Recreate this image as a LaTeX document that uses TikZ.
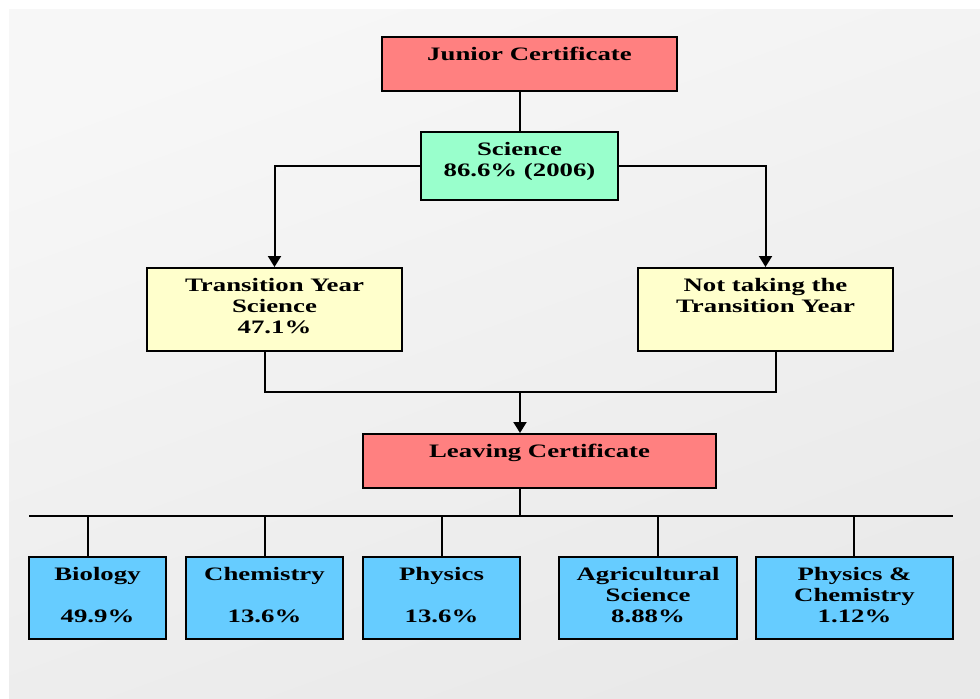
\documentclass[tikz,border=0pt]{standalone}
\usepackage{fontspec}
\setmainfont{Liberation Serif}[FakeStretch=1.41]
\usetikzlibrary{arrows.meta}

\definecolor{certred}{RGB}{255,128,128}
\definecolor{scigreen}{RGB}{153,255,204}
\definecolor{routeyellow}{RGB}{255,255,204}
\definecolor{subjblue}{RGB}{102,204,255}
\definecolor{bgtop}{RGB}{247,247,247}
\definecolor{bgbot}{RGB}{233,233,233}

\begin{document}
\begin{tikzpicture}[x=0.5pt, y=-0.5pt, line width=1pt,
  box/.style = {draw, rectangle, line width=1pt, inner sep=0pt},
  cert/.style = {box, fill=certred, minimum height=27pt},
  sci/.style = {box, fill=scigreen},
  route/.style = {box, fill=routeyellow, minimum width=127.5pt, minimum height=41.5pt},
  subj/.style = {box, fill=subjblue, minimum height=41pt},
  txt/.style = {anchor=north, inner sep=0pt, align=center, font=\bfseries\fontsize{9.5}{10.5}\selectfont},
  arr/.style = {-{Triangle[width=6.5pt,length=5.5pt]}}]

\useasboundingbox (0,0) rectangle (980,698);
\shade[top color=bgtop, bottom color=bgbot, shading angle=20] (9,9) rectangle (980,698);

% boxes
\node[cert, minimum width=147.5pt] (jc) at (529.5,64) {};
\node[sci, minimum width=98.5pt, minimum height=34pt] (sci) at (519.5,166) {};
\node[route] (ty) at (274.5,309.5) {};
\node[route] (nty) at (765.5,309.5) {};
\node[cert, minimum width=176.5pt] (lc) at (539.5,461) {};
\node[subj, minimum width=68.5pt] (bio) at (97.5,598) {};
\node[subj, minimum width=78.5pt] (chem) at (264.5,598) {};
\node[subj, minimum width=78.5pt] (phys) at (441.5,598) {};
\node[subj, minimum width=89pt] (agri) at (648,598) {};
\node[subj, minimum width=98.5pt] (pc) at (854.5,598) {};

% texts
\node[txt] (jctext) at ([yshift=-5.3pt]jc.north) {Junior Certificate};
\node[txt] (scitext) at ([yshift=-5.3pt]sci.north) {Science\\86.6\% (2006)};
\node[txt] (tytext) at ([yshift=-5.3pt]ty.north) {Transition Year\\Science\\47.1\%};
\node[txt] (ntytext) at ([yshift=-5.3pt]nty.north) {Not taking the\\Transition Year};
\node[txt] (lctext) at ([yshift=-5.3pt]lc.north) {Leaving Certificate};
\node[txt] (biotext) at ([yshift=-5.3pt]bio.north) {Biology\\[10.5pt]49.9\%};
\node[txt] (chemtext) at ([yshift=-5.3pt]chem.north) {Chemistry\\[10.5pt]13.6\%};
\node[txt] (phystext) at ([yshift=-5.3pt]phys.north) {Physics\\[10.5pt]13.6\%};
\node[txt] (agritext) at ([yshift=-5.3pt]agri.north) {Agricultural\\Science\\8.88\%};
\node[txt] (pctext) at ([yshift=-5.3pt]pc.north) {Physics \&\\Chemistry\\1.12\%};

% connectors
\coordinate (merge) at (520,392);
\coordinate (busL) at (29,516);
\coordinate (busR) at (953,516);

\draw (sci.north) -- (sci.north |- jc.south);
\draw[arr] (sci.west) -| (ty.north);
\draw[arr] (sci.east) -| (nty.north);
\draw ([xshift=-4.75pt]ty.south) |- (merge);
\draw ([xshift=5.25pt]nty.south) |- (merge);
\draw[arr] (merge) -- (merge |- lc.north);
\draw (merge |- lc.south) -- (merge |- busL);
\draw (busL) -- (busR);
\foreach \n/\x in {bio/88, chem/265, phys/442, agri/658, pc/854}
  \draw (busL -| \x,0) -- (\n.north -| \x,0);

\end{tikzpicture}
\end{document}
